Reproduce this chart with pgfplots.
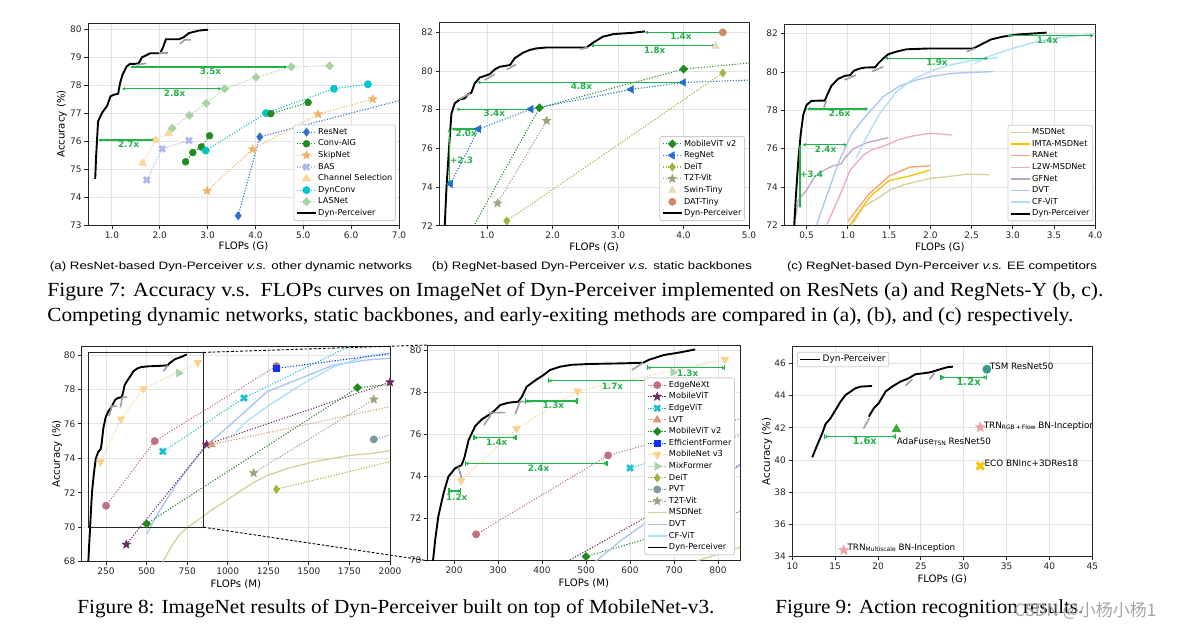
\documentclass[border=0pt]{standalone}
\usepackage{graphicx}
\usepackage{pgfplots}
\usepackage{pgfplotstable}
\pgfplotsset{compat=1.18}
\usepackage{fontspec}
\setmainfont{Liberation Serif}
\newfontfamily\dv{DejaVu Sans}
\newfontfamily\ar{Liberation Sans}
\newfontfamily\cjk{Noto Sans CJK SC}
\usetikzlibrary{arrows.meta}

\definecolor{cResNet}{HTML}{2F6FD1}
\definecolor{cConvAIG}{HTML}{228B22}
\definecolor{cSkip}{HTML}{F0B464}
\definecolor{cBAS}{HTML}{B0B8E8}
\definecolor{cChan}{HTML}{FBD595}
\definecolor{cDynConv}{HTML}{00C5C8}
\definecolor{cLAS}{HTML}{A8D4A0}
\definecolor{cRegNet}{HTML}{2070D0}
\definecolor{cDeiT}{HTML}{9AB83A}
\definecolor{cT2T}{HTML}{A0A080}
\definecolor{cSwin}{HTML}{EADBC0}
\definecolor{cDAT}{HTML}{D08A6A}
\definecolor{cMSD}{HTML}{D8CF9C}
\definecolor{cIMTA}{HTML}{F5C400}
\definecolor{cRANet}{HTML}{F8A070}
\definecolor{cL2W}{HTML}{F0A8BC}
\definecolor{cGF}{HTML}{C0A4C8}
\definecolor{cDVT}{HTML}{A8C4F0}
\definecolor{cCF}{HTML}{A8E0F5}
\definecolor{cEdgeNeXt}{HTML}{C07080}
\definecolor{cMViT}{HTML}{6A2A6A}
\definecolor{cEdgeViT}{HTML}{20C0C8}
\definecolor{cLVT}{HTML}{D89878}
\definecolor{cEF}{HTML}{1030F8}
\definecolor{cMNv}{HTML}{FDD090}
\definecolor{cMix}{HTML}{A8D4A8}
\definecolor{cPVT}{HTML}{7A9AA0}
\definecolor{cArrow}{HTML}{22B34A}
\definecolor{cTSM}{HTML}{3A9A8A}
\definecolor{cAda}{HTML}{3AAA3A}
\definecolor{cTRN}{HTML}{F0A0A0}
\definecolor{cECO}{HTML}{F5C518}

\pgfdeclareplotmark{fstar}{%
  \pgfpathmoveto{\pgfpointpolar{90}{\pgfplotmarksize}}%
  \pgfpathlineto{\pgfpointpolar{126}{0.42\pgfplotmarksize}}%
  \pgfpathlineto{\pgfpointpolar{162}{\pgfplotmarksize}}%
  \pgfpathlineto{\pgfpointpolar{198}{0.42\pgfplotmarksize}}%
  \pgfpathlineto{\pgfpointpolar{234}{\pgfplotmarksize}}%
  \pgfpathlineto{\pgfpointpolar{270}{0.42\pgfplotmarksize}}%
  \pgfpathlineto{\pgfpointpolar{306}{\pgfplotmarksize}}%
  \pgfpathlineto{\pgfpointpolar{342}{0.42\pgfplotmarksize}}%
  \pgfpathlineto{\pgfpointpolar{18}{\pgfplotmarksize}}%
  \pgfpathlineto{\pgfpointpolar{54}{0.42\pgfplotmarksize}}%
  \pgfpathclose\pgfusepathqfillstroke}
\pgfdeclareplotmark{fx}{%
  \pgfpathmoveto{\pgfpoint{-0.495\pgfplotmarksize}{0.919\pgfplotmarksize}}%
  \pgfpathlineto{\pgfpoint{0pt}{0.424\pgfplotmarksize}}%
  \pgfpathlineto{\pgfpoint{0.495\pgfplotmarksize}{0.919\pgfplotmarksize}}%
  \pgfpathlineto{\pgfpoint{0.919\pgfplotmarksize}{0.495\pgfplotmarksize}}%
  \pgfpathlineto{\pgfpoint{0.424\pgfplotmarksize}{0pt}}%
  \pgfpathlineto{\pgfpoint{0.919\pgfplotmarksize}{-0.495\pgfplotmarksize}}%
  \pgfpathlineto{\pgfpoint{0.495\pgfplotmarksize}{-0.919\pgfplotmarksize}}%
  \pgfpathlineto{\pgfpoint{0pt}{-0.424\pgfplotmarksize}}%
  \pgfpathlineto{\pgfpoint{-0.495\pgfplotmarksize}{-0.919\pgfplotmarksize}}%
  \pgfpathlineto{\pgfpoint{-0.919\pgfplotmarksize}{-0.495\pgfplotmarksize}}%
  \pgfpathlineto{\pgfpoint{-0.424\pgfplotmarksize}{0pt}}%
  \pgfpathlineto{\pgfpoint{-0.919\pgfplotmarksize}{0.495\pgfplotmarksize}}%
  \pgfpathclose\pgfusepathqfillstroke}

\tikzset{alab/.style={font=\dv\bfseries\fontsize{4.4}{5}\selectfont, text=cArrow, inner sep=0pt}}

\pgfplotsset{
  mpl/.style={
    scale only axis, anchor=south west, clip=true,
    axis line style={black!85, line width=0.45pt},
    grid=major, major grid style={black!11, line width=0.45pt},
    tick align=outside, tick pos=left, major tick length=1.8pt,
    tick style={black!85, line width=0.4pt},
    ticklabel style={font=\dv\fontsize{4.5}{5}\selectfont, text=black!85, inner sep=1.2pt},
    /pgf/number format/assume math mode=true,
    label style={font=\dv\fontsize{5.1}{6}\selectfont, inner sep=0pt},
    legend style={font=\dv\fontsize{4.1}{5}\selectfont, draw=black!20, rounded corners=1pt, fill=white, inner sep=1pt, row sep=0.6pt, nodes={inner sep=0.6pt, text height=3.1pt, text depth=0.9pt}},
    legend cell align=left,
    legend image code/.code={\draw[mark repeat=2,mark phase=2,##1] plot coordinates {(0pt,0pt)(4.8pt,0pt)(9.6pt,0pt)};},
  },
  xdec/.style={xticklabel style={/pgf/number format/fixed, /pgf/number format/fixed zerofill, /pgf/number format/precision=1}},
  ser/.style n args={4}{color=#1, dash pattern=on 0.55pt off 0.85pt, line width=0.55pt, mark=#2, mark size=#3, mark options={solid, fill=#1, draw=#1, line width=0.2pt, #4}},
  spt/.style n args={4}{color=#1, only marks, mark=#2, mark size=#3, mark options={solid, fill=#1, draw=#1, line width=0.2pt, #4}},
  cur/.style={color=#1, line width=0.65pt, no marks},
  dyn/.style={black, line width=0.95pt, no marks},
  gseg/.style={black!38, line width=0.8pt, no marks, forget plot},
  garr/.style={cArrow, line width=0.6pt, {Latex[length=1.6pt,width=1.9pt]}-{Latex[length=1.6pt,width=1.9pt]}, no marks, forget plot},
  gbar/.style={cArrow, line width=0.6pt, {Bar[width=2.6pt]}-{Bar[width=2.6pt]}, no marks, forget plot},
}

% ---------- Figure 8 data ----------
\pgfplotstableread[row sep=\\]{x y\\ 141 68.0\\ 146 69.0\\ 152 70.0\\ 157 70.98\\ 164 72.09\\ 176 73.2\\ 187 73.99\\ 202 74.38\\ 217 74.54\\ 223 74.86\\ 233 75.73\\ 248 76.39\\ 263 76.71\\ 278 76.91\\ 289 77.07\\ 305 77.39\\ 323 77.5\\ 346 77.55\\ 354 77.78\\ 365 78.26\\ 388 78.61\\ 403 78.81\\ 418 79.05\\ 441 79.21\\ 467 79.3\\ 509 79.34\\ 585 79.37\\ 630 79.4\\ 642 79.53\\ 676 79.76\\ 714 79.89\\ 748 80.03\\}\tDyn
\pgfplotstableread[row sep=\\]{x y\\ 216 73.8\\ 342 76.28\\ 481 78.05\\ 816 79.56\\}\tMNv
\pgfplotstableread[row sep=\\]{x y\\ 698 78.95\\}\tMix
\pgfplotstableread[row sep=\\]{x y\\ 250 71.25\\ 550 75.0\\ 1300 79.35\\}\tEdgeNeXt
\pgfplotstableread[row sep=\\]{x y\\ 375 69.0\\ 870 74.8\\ 2000 78.42\\}\tMViT
\pgfplotstableread[row sep=\\]{x y\\ 600 74.4\\ 1100 77.5\\ 1900 81.2\\}\tEdgeViT
\pgfplotstableread[row sep=\\]{x y\\ 900 74.8\\ 2500 78.0\\}\tLVT
\pgfplotstableread[row sep=\\]{x y\\ 500 70.2\\ 1800 78.1\\ 4000 80.1\\}\tMViTv
\pgfplotstableread[row sep=\\]{x y\\ 1300 79.22\\ 3900 82.4\\}\tEF
\pgfplotstableread[row sep=\\]{x y\\ 1300 72.2\\ 4600 79.8\\}\tDeiT
\pgfplotstableread[row sep=\\]{x y\\ 1900 75.1\\ 3800 79.8\\}\tPVT
\pgfplotstableread[row sep=\\]{x y\\ 1160 73.15\\ 1900 77.42\\}\tTT
\pgfplotstableread[row sep=\\]{x y\\ 600 68.0\\ 650 68.85\\ 700 69.55\\ 760 70.05\\ 830 70.5\\ 900 71.0\\ 1000 71.6\\ 1077 72.1\\ 1160 72.6\\ 1242 73.0\\ 1365 73.4\\ 1530 73.8\\ 1736 74.15\\ 1900 74.3\\ 2000 74.45\\}\tMSD
\pgfplotstableread[row sep=\\]{x y\\ 500 69.6\\ 582 71.0\\ 685 72.52\\ 788 73.79\\ 871 74.76\\ 1036 76.12\\ 1242 77.86\\ 1448 78.64\\ 1654 79.42\\ 1860 79.71\\ 2000 79.81\\}\tDVT
\pgfplotstableread[row sep=\\]{x y\\ 1046 75.48\\ 1118 76.16\\ 1242 76.99\\ 1448 78.25\\ 1654 79.32\\ 1860 79.94\\ 2000 80.1\\}\tCF

\begin{document}
\begin{tikzpicture}
\path[fill=white, use as bounding box] (0pt,0pt) rectangle (594pt,-316pt);

% ================= (a) =================
\begin{axis}[mpl, xdec, at={(44pt,-112.5pt)}, width=155.5pt, height=101pt,
  xmin=0.5, xmax=7.0, ymin=73, ymax=80.22, xtick={1,...,7}, ytick={73,...,80},
  xlabel={FLOPs (G)}, ylabel={Accuracy (\%)},
  xlabel style={at={(axis description cs:0.5,0)}, anchor=base, yshift=-12.4pt},
  ylabel style={at={(axis description cs:-0.084,0.5)}, anchor=center, rotate=0},
  legend style={at={(0.99,0.02)}, anchor=south east}]
\addplot[ser={cResNet}{diamond*}{2.1pt}{}] coordinates {(3.64,73.33)(4.09,76.15)(7.8,77.8)};
\addlegendentry{ResNet}
\addplot[ser={cConvAIG}{*}{1.75pt}{}] coordinates {(2.54,75.26)(2.69,75.59)(2.87,75.79)(3.04,76.19)};
\addlegendentry{Conv-AIG}
\addplot[ser={cSkip}{fstar}{2.3pt}{}] coordinates {(2.99,74.22)(3.94,75.71)(5.31,76.96)(6.45,77.5)};
\addlegendentry{SkipNet}
\addplot[ser={cBAS}{fx}{1.9pt}{}] coordinates {(1.73,74.61)(2.05,75.72)(2.61,76.02)};
\addlegendentry{BAS}
\addplot[ser={cChan}{triangle*}{2.3pt}{}] coordinates {(1.64,75.21)(1.92,76.04)(2.19,76.28)};
\addlegendentry{Channel Selection}
\addplot[ser={cDynConv}{*}{1.85pt}{}] coordinates {(2.96,75.66)(4.22,77.0)(5.64,77.87)(6.35,78.03)};
\addlegendentry{DynConv}
\addplot[ser={cLAS}{square*}{1.45pt}{rotate=45}] coordinates {(2.26,76.46)(2.62,76.92)(2.97,77.35)(3.36,77.87)(4.01,78.28)(4.75,78.65)(5.55,78.69)};
\addlegendentry{LASNet}
\addplot[dyn] coordinates {(0.65,74.65)(0.67,75.45)(0.71,76.7)(0.79,77.0)(0.9,77.26)(0.97,77.6)(1.03,77.65)(1.13,77.69)(1.17,78.07)(1.22,78.37)(1.31,78.67)(1.38,78.76)(1.49,78.76)(1.56,78.78)(1.63,79.0)(1.70,79.05)(1.80,79.14)(2.01,79.14)(2.06,79.32)(2.13,79.64)(2.40,79.64)(2.50,79.71)(2.61,79.86)(2.82,79.95)(3.01,79.98)};
\addlegendentry{Dyn-Perceiver}
\addplot[ser={cConvAIG}{*}{1.75pt}{}, forget plot] coordinates {(4.32,76.98)(5.10,77.38)};
\addplot[gseg] coordinates {(1.50,78.72)(1.72,78.78)};
\addplot[gseg] coordinates {(1.98,79.14)(2.18,79.14)};
\addplot[gseg] coordinates {(2.42,79.47)(2.52,79.62)(2.65,79.62)};
\addplot[garr] coordinates {(1.38,78.65)(4.67,78.65)};
\addplot[garr] coordinates {(1.21,77.87)(3.29,77.87)};
\addplot[garr] coordinates {(0.71,76.04)(1.91,76.04)};
\node[alab] at (axis cs:3.06,78.49) {3.5x};
\node[alab] at (axis cs:2.31,77.70) {2.8x};
\node[alab] at (axis cs:1.35,75.89) {2.7x};
\end{axis}

% ================= (b) =================
\begin{axis}[mpl, xdec, at={(219.65pt,-112.85pt)}, width=154.85pt, height=101.5pt,
  xmin=0.27, xmax=5.0, ymin=72, ymax=82.5, xtick={1,...,5}, ytick={72,74,...,82},
  xlabel={FLOPs (G)},
  xlabel style={at={(axis description cs:0.5,0)}, anchor=base, yshift=-12.4pt},
  legend style={at={(0.987,0.023)}, anchor=south east}]
\addplot[ser={cConvAIG}{square*}{1.45pt}{rotate=45}] coordinates {(0.5,70.2)(1.8,78.1)(4.0,80.1)(7.5,81.2)};
\addlegendentry{MobileViT v2}
\addplot[ser={cRegNet}{triangle*}{2.2pt}{rotate=90}] coordinates {(0.44,74.16)(0.87,77.0)(1.67,78.03)(3.2,79.05)(4.0,79.41)(8.0,79.9)};
\addlegendentry{RegNet}
\addplot[ser={cDeiT}{diamond*}{2.1pt}{}] coordinates {(1.3,72.25)(4.6,79.9)};
\addlegendentry{DeiT}
\addplot[ser={cT2T}{fstar}{2.3pt}{}] coordinates {(1.16,73.16)(1.91,77.43)};
\addlegendentry{T2T-Vit}
\addplot[spt={cSwin}{triangle*}{2.3pt}{}] coordinates {(4.49,81.29)};
\addlegendentry{Swin-Tiny}
\addplot[spt={cDAT}{*}{1.85pt}{}] coordinates {(4.6,82.0)};
\addlegendentry{DAT-Tiny}
\addplot[dyn] coordinates {(0.35,71.5)(0.353,72.0)(0.38,74.0)(0.42,76.09)(0.455,77.8)(0.506,78.33)(0.58,78.53)(0.66,78.59)(0.71,78.81)(0.76,78.88)(0.81,79.36)(0.89,79.67)(0.96,79.74)(1.04,79.84)(1.12,80.09)(1.19,80.22)(1.30,80.28)(1.35,80.31)(1.42,80.66)(1.55,80.95)(1.65,81.09)(1.75,81.17)(1.91,81.22)(2.52,81.22)(2.62,81.47)(2.77,81.78)(2.93,81.91)(3.23,81.98)(3.41,82.05)};
\addlegendentry{Dyn-Perceiver}
\addplot[gseg] coordinates {(0.57,78.53)(0.74,78.84)};
\addplot[gseg] coordinates {(0.96,79.53)(1.12,79.84)};
\addplot[gseg] coordinates {(1.30,80.07)(1.44,80.34)};
\addplot[gseg] coordinates {(2.42,81.12)(2.54,81.22)};
\addplot[garr] coordinates {(3.41,82.0)(4.6,82.0)};
\addplot[garr] coordinates {(2.58,81.31)(4.49,81.31)};
\addplot[garr] coordinates {(0.85,79.41)(4.0,79.41)};
\addplot[garr] coordinates {(0.53,78.02)(1.67,78.02)};
\addplot[garr] coordinates {(0.455,77.0)(0.87,77.0)};
\addplot[garr] coordinates {(0.42,74.16)(0.42,77.0)};
\node[alab] at (axis cs:3.96,81.78) {1.4x};
\node[alab] at (axis cs:3.56,81.09) {1.8x};
\node[alab] at (axis cs:2.44,79.19) {4.8x};
\node[alab] at (axis cs:1.11,77.81) {3.4x};
\node[alab] at (axis cs:0.68,76.78) {2.0x};
\node[alab] at (axis cs:0.61,75.40) {+2.3};
\end{axis}

% ================= (c) =================
\begin{axis}[mpl, xdec, at={(392.15pt,-112.65pt)}, width=155.5pt, height=100.65pt,
  xmin=0.23, xmax=4.0, ymin=72, ymax=82.5, xtick={0.5,1,...,4}, ytick={72,74,...,82},
  xlabel={FLOPs (G)},
  xlabel style={at={(axis description cs:0.5,0)}, anchor=base, yshift=-12.4pt},
  legend style={at={(0.993,0.02)}, anchor=south east}]
\addplot[cur=cMSD] coordinates {(1.05,72.0)(1.19,72.97)(1.33,73.32)(1.51,73.84)(1.67,74.1)(1.79,74.23)(2.0,74.45)(2.2,74.53)(2.44,74.67)(2.72,74.64)};
\addlegendentry{MSDNet}
\addplot[cur=cIMTA] coordinates {(1.02,72.0)(1.27,73.5)(1.5,74.33)(1.75,74.57)(2.0,74.89)};
\addlegendentry{IMTA-MSDNet}
\addplot[cur=cRANet] coordinates {(1.0,72.2)(1.25,73.6)(1.5,74.57)(1.75,75.03)(2.0,75.11)};
\addlegendentry{RANet}
\addplot[cur=cL2W] coordinates {(0.74,72.0)(0.88,73.32)(1.03,74.89)(1.19,75.67)(1.29,75.93)(1.47,76.19)(1.63,76.49)(1.79,76.66)(2.0,76.8)(2.26,76.71)};
\addlegendentry{L2W-MSDNet}
\addplot[cur=cGF] coordinates {(0.35,72.0)(0.40,73.32)(0.5,73.84)(0.6,74.54)(0.72,74.89)(0.82,75.11)(0.92,75.2)(0.96,75.5)(1.07,76.0)(1.23,76.31)(1.49,76.57)};
\addlegendentry{GFNet}
\addplot[cur=cDVT] coordinates {(0.62,72.0)(0.74,73.5)(0.90,75.41)(1.05,76.8)(1.23,77.76)(1.43,78.71)(1.63,79.27)(1.83,79.58)(2.04,79.79)(2.28,79.93)(2.76,80.02)};
\addlegendentry{DVT}
\addplot[cur=cCF] coordinates {(1.1,75.5)(1.23,76.63)(1.39,77.84)(1.59,78.97)(1.79,79.62)(2.04,80.1)(2.24,80.36)(2.5,80.6)(2.82,80.75)};
\addlegendentry{CF-ViT}
\addplot[dyn] coordinates {(0.345,71.5)(0.35,72.0)(0.37,73.5)(0.40,75.4)(0.43,76.8)(0.46,77.76)(0.5,78.28)(0.56,78.49)(0.64,78.5)(0.72,78.5)(0.75,78.8)(0.80,79.27)(0.88,79.63)(0.96,79.79)(1.03,79.84)(1.07,80.05)(1.13,80.16)(1.21,80.23)(1.33,80.24)(1.37,80.45)(1.43,80.71)(1.49,80.92)(1.59,81.06)(1.71,81.18)(1.96,81.22)(2.52,81.22)(2.62,81.44)(2.74,81.7)(2.88,81.84)(3.05,81.95)(3.41,82.05)};
\addlegendentry{Dyn-Perceiver}
\addplot[cur=cCF, forget plot] coordinates {(2.54,80.45)(2.7,80.8)(3.0,81.23)(3.29,81.58)(3.57,81.79)(4.0,81.97)};
\addplot[gseg] coordinates {(0.71,78.15)(0.74,78.5)};
\addplot[gseg] coordinates {(0.96,79.58)(1.1,79.84)};
\addplot[gseg] coordinates {(1.29,80.02)(1.43,80.27)};
\addplot[gseg] coordinates {(2.44,81.06)(2.54,81.22)};
\addplot[garr] coordinates {(2.93,81.88)(3.98,81.88)};
\addplot[garr] coordinates {(1.45,80.71)(2.70,80.71)};
\addplot[garr] coordinates {(0.5,78.07)(1.25,78.07)};
\addplot[garr] coordinates {(0.45,76.2)(0.99,76.2)};
\addplot[garr] coordinates {(0.42,72.89)(0.42,76.2)};
\node[alab] at (axis cs:3.42,81.63) {1.4x};
\node[alab] at (axis cs:2.08,80.49) {1.9x};
\node[alab] at (axis cs:0.90,77.84) {2.6x};
\node[alab] at (axis cs:0.73,75.98) {2.4x};
\node[alab] at (axis cs:0.56,74.68) {+3.4};
\end{axis}

% ================= Fig 8 left =================
\begin{axis}[mpl, at={(40.85pt,-280.85pt)}, width=154.15pt, height=107.85pt,
  xmin=100, xmax=2000, ymin=68, ymax=80.52, xtick={250,500,...,2000}, ytick={68,70,...,80},
  xticklabel style={/pgf/number format/1000 sep={}},
  xlabel={FLOPs (M)}, ylabel={Accuracy (\%)},
  xlabel style={at={(axis description cs:0.5,0)}, anchor=base, yshift=-13.1pt},
  ylabel style={at={(axis description cs:-0.080,0.5)}, anchor=center, rotate=0}]
\addplot[cur=cMSD, forget plot] table {\tMSD};
\addplot[cur=cDVT, forget plot] table {\tDVT};
\addplot[cur=cCF, forget plot] table {\tCF};
\addplot[ser={cEdgeNeXt}{*}{1.85pt}{}, forget plot] table {\tEdgeNeXt};
\addplot[ser={cMViT}{fstar}{2.3pt}{}, forget plot] table {\tMViT};
\addplot[ser={cEdgeViT}{fx}{1.9pt}{}, forget plot] table {\tEdgeViT};
\addplot[ser={cLVT}{triangle*}{2.3pt}{}, forget plot] table {\tLVT};
\addplot[ser={cConvAIG}{square*}{1.45pt}{rotate=45}, forget plot] table {\tMViTv};
\addplot[ser={cEF}{square*}{1.6pt}{}, forget plot] table {\tEF};
\addplot[ser={cMNv}{triangle*}{2.3pt}{rotate=180}, forget plot] table {\tMNv};
\addplot[ser={cMix}{triangle*}{2.3pt}{rotate=-90}, forget plot] table {\tMix};
\addplot[ser={cDeiT}{diamond*}{2.1pt}{}, forget plot] table {\tDeiT};
\addplot[ser={cPVT}{*}{1.85pt}{}, forget plot] table {\tPVT};
\addplot[ser={cT2T}{fstar}{2.3pt}{}, forget plot] table {\tTT};
\addplot[dyn, forget plot] table {\tDyn};
\addplot[gseg] coordinates {(268,76.44)(282,76.87)(282,77.03)(316,77.03)};
\addplot[gseg] coordinates {(339,76.96)(350,77.55)(380,77.55)};
\addplot[gseg] coordinates {(604,79.05)(630,79.4)};
\draw[black!85, line width=0.6pt] (axis cs:140,70) rectangle (axis cs:850,80.15);
\coordinate (rtr) at (axis cs:850,80.15);
\coordinate (rbr) at (axis cs:850,70);
\end{axis}

% ================= Fig 8 right =================
\begin{axis}[mpl, at={(213.85pt,-280.35pt)}, width=156.15pt, height=107.85pt,
  xmin=140, xmax=850, ymin=70, ymax=80.24, xtick={200,300,...,800}, ytick={70,72,...,80},
  xlabel={FLOPs (M)},
  xlabel style={at={(axis description cs:0.5,0)}, anchor=base, yshift=-13pt},
  legend style={at={(0.984,0.026)}, anchor=south east}]
\addplot[ser={cEdgeNeXt}{*}{1.85pt}{}] table {\tEdgeNeXt};
\addlegendentry{EdgeNeXt}
\addplot[ser={cMViT}{fstar}{2.3pt}{}] table {\tMViT};
\addlegendentry{MobileViT}
\addplot[ser={cEdgeViT}{fx}{1.9pt}{}] table {\tEdgeViT};
\addlegendentry{EdgeViT}
\addplot[ser={cLVT}{triangle*}{2.3pt}{}] table {\tLVT};
\addlegendentry{LVT}
\addplot[ser={cConvAIG}{square*}{1.45pt}{rotate=45}] table {\tMViTv};
\addlegendentry{MobileViT v2}
\addplot[ser={cEF}{square*}{1.6pt}{}] table {\tEF};
\addlegendentry{EfficientFormer}
\addplot[ser={cMNv}{triangle*}{2.3pt}{rotate=180}] table {\tMNv};
\addlegendentry{MobileNet v3}
\addplot[ser={cMix}{triangle*}{2.3pt}{rotate=-90}] table {\tMix};
\addlegendentry{MixFormer}
\addplot[ser={cDeiT}{diamond*}{2.1pt}{}] table {\tDeiT};
\addlegendentry{DeiT}
\addplot[ser={cPVT}{*}{1.85pt}{}] table {\tPVT};
\addlegendentry{PVT}
\addplot[ser={cT2T}{fstar}{2.3pt}{}] table {\tTT};
\addlegendentry{T2T-Vit}
\addplot[cur=cMSD] table {\tMSD};
\addlegendentry{MSDNet}
\addplot[cur=cDVT] table {\tDVT};
\addlegendentry{DVT}
\addplot[cur=cCF] table {\tCF};
\addlegendentry{CF-ViT}
\addplot[dyn] table {\tDyn};
\addlegendentry{Dyn-Perceiver}
\addplot[gseg] coordinates {(210,74.46)(217,73.9)};
\addplot[gseg] coordinates {(268,76.44)(282,76.87)(282,77.03)(316,77.03)};
\addplot[gseg] coordinates {(339,76.96)(350,77.55)(380,77.55)};
\addplot[gseg] coordinates {(604,79.05)(630,79.4)};
\addplot[gbar] coordinates {(639,79.16)(816,79.16)};
\addplot[garr] coordinates {(639,79.16)(816,79.16)};
\addplot[gbar] coordinates {(414,78.54)(700,78.54)};
\addplot[garr] coordinates {(414,78.54)(700,78.54)};
\addplot[gbar] coordinates {(361,77.58)(481,77.58)};
\addplot[garr] coordinates {(361,77.58)(481,77.58)};
\addplot[gbar] coordinates {(244,75.84)(342,75.84)};
\addplot[garr] coordinates {(244,75.84)(342,75.84)};
\addplot[gbar] coordinates {(225,74.62)(549,74.62)};
\addplot[garr] coordinates {(225,74.62)(549,74.62)};
\addplot[gbar] coordinates {(187,73.31)(216,73.31)};
\addplot[garr] coordinates {(187,73.31)(216,73.31)};
\node[alab] at (axis cs:731,78.92) {1.3x};
\node[alab] at (axis cs:560,78.29) {1.7x};
\node[alab] at (axis cs:426,77.37) {1.3x};
\node[alab] at (axis cs:297,75.62) {1.4x};
\node[alab] at (axis cs:392,74.38) {2.4x};
\node[alab] at (axis cs:206,72.99) {1.2x};
\coordinate (zl) at (rel axis cs:0,1);
\coordinate (zb) at (rel axis cs:0,0);
\end{axis}
\draw[black, line width=0.45pt, dash pattern=on 1.4pt off 0.9pt] (rtr) -- (zl);
\draw[black, line width=0.45pt, dash pattern=on 1.4pt off 0.9pt] (rbr) -- (zb);

% ================= Fig 9 =================
\begin{axis}[mpl, at={(396.15pt,-278.35pt)}, width=150pt, height=105.35pt,
  xmin=10, xmax=45, ymin=34, ymax=47.07, xtick={10,15,...,45}, ytick={34,36,...,46},
  xlabel={FLOPs (G)}, ylabel={Accuracy (\%)},
  xlabel style={at={(axis description cs:0.5,0)}, anchor=base, yshift=-12.65pt},
  ylabel style={at={(axis description cs:-0.084,0.5)}, anchor=center, rotate=0},
  legend style={at={(0.016,0.972)}, anchor=north west, font=\dv\fontsize{4.5}{5}\selectfont},
  legend image code/.code={\draw[#1] (0pt,0pt) -- (10pt,0pt);}]
\addplot[dyn] coordinates {(12.33,40.17)(12.91,40.93)(13.49,41.65)(13.88,42.23)(14.46,42.59)(15.04,43.1)(15.63,43.62)(16.21,44.03)(16.79,44.24)(17.37,44.45)(17.95,44.55)(19.31,44.59)};
\addlegendentry{Dyn-Perceiver}
\addplot[dyn, forget plot] coordinates {(18.93,42.69)(19.51,43.21)(20.09,43.52)(20.87,44.24)(21.64,44.55)(22.61,44.86)(23.58,45.07)(24.36,45.32)(25.33,45.38)(26.1,45.44)(27.27,45.63)(28.04,45.75)(28.74,45.79)};
\addplot[gseg] coordinates {(18.3,41.96)(19.0,42.6)};
\addplot[gseg] coordinates {(23.2,44.6)(24.0,45.0)};
\addplot[gseg] coordinates {(26.0,45.0)(26.6,45.4)};
\addplot[spt={cTSM}{*}{2.1pt}{}, forget plot] coordinates {(32.7,45.63)};
\addplot[spt={cAda}{triangle*}{2.6pt}{}, forget plot] coordinates {(22.15,41.9)};
\addplot[spt={cTRN}{fstar}{2.7pt}{}, forget plot] coordinates {(31.93,42.03)};
\addplot[spt={cECO}{fx}{2.4pt}{}, forget plot] coordinates {(31.93,39.63)};
\addplot[spt={cTRN}{fstar}{2.7pt}{}, forget plot] coordinates {(16.01,34.41)};
\addplot[gbar] coordinates {(27.27,45.13)(32.7,45.13)};
\addplot[garr] coordinates {(27.27,45.13)(32.7,45.13)};
\addplot[gbar] coordinates {(13.69,41.45)(22.15,41.45)};
\addplot[garr] coordinates {(13.69,41.45)(22.15,41.45)};
\node[alab, font=\dv\bfseries\fontsize{5}{6}\selectfont] at (axis cs:30.57,44.86) {1.2x};
\node[alab, font=\dv\bfseries\fontsize{5}{6}\selectfont] at (axis cs:18.46,41.2) {1.6x};
\node[anchor=west, inner sep=0pt, font=\dv\fontsize{4.4}{5}\selectfont] at (axis cs:33.0,45.8) {TSM ResNet50};
\node[anchor=west, inner sep=0pt, font=\dv\fontsize{4.4}{5}\selectfont] at (axis cs:32.3,42.12) {TRN\raisebox{-0.35ex}{\fontsize{3}{3}\selectfont RGB\,+\,Flow} BN-Inception};
\node[anchor=west, inner sep=0pt, font=\dv\fontsize{4.4}{5}\selectfont] at (axis cs:22.15,41.14) {AdaFuse\raisebox{-0.35ex}{\fontsize{3}{3}\selectfont TSN} ResNet50};
\node[anchor=west, inner sep=0pt, font=\dv\fontsize{4.4}{5}\selectfont] at (axis cs:32.39,39.79) {ECO BNInc+3DRes18};
\node[anchor=west, inner sep=0pt, font=\dv\fontsize{4.4}{5}\selectfont] at (axis cs:16.4,34.55) {TRN\raisebox{-0.35ex}{\fontsize{3}{3}\selectfont Multiscale} BN-Inception};
\end{axis}

% ================= captions =================
\node[anchor=base, inner sep=0pt] at (115.5pt,-134.6pt) {\resizebox{181pt}{\height}{\ar\fontsize{5.4}{6}\selectfont (a) ResNet-based Dyn-Perceiver \textit{v.s.} other dynamic networks}};
\node[anchor=base, inner sep=0pt] at (296pt,-134.6pt) {\resizebox{160pt}{\height}{\ar\fontsize{5.4}{6}\selectfont (b) RegNet-based Dyn-Perceiver \textit{v.s.} static backbones}};
\node[anchor=base, inner sep=0pt] at (471pt,-134.6pt) {\resizebox{155pt}{\height}{\ar\fontsize{5.4}{6}\selectfont (c) RegNet-based Dyn-Perceiver \textit{v.s.} EE competitors}};
\node[anchor=base west, inner sep=0pt] at (23.5pt,-148.3pt) {\resizebox{528pt}{\height}{\fontsize{10}{12}\selectfont Figure 7: Accuracy v.s.\ \ FLOPs curves on ImageNet of Dyn-Perceiver implemented on ResNets (a) and RegNets-Y (b, c).}};
\node[anchor=base west, inner sep=0pt] at (23.5pt,-160.5pt) {\resizebox{513pt}{\height}{\fontsize{10}{12}\selectfont Competing dynamic networks, static backbones, and early-exiting methods are compared in (a), (b), and (c) respectively.}};
\node[anchor=base west, inner sep=0pt] at (38.5pt,-306.5pt) {\resizebox{318.5pt}{\height}{\fontsize{10}{12}\selectfont Figure 8: ImageNet results of Dyn-Perceiver built on top of MobileNet-v3.}};
\node[anchor=base west, inner sep=0pt] at (387.5pt,-306.5pt) {\resizebox{154pt}{\height}{\fontsize{10}{12}\selectfont Figure 9: Action recognition results.}};
\node[anchor=base west, inner sep=0pt, text=black!35] at (507pt,-308pt) {\cjk\fontsize{8.5}{9}\selectfont CSDN @小杨小杨1};
\end{tikzpicture}
\end{document}
